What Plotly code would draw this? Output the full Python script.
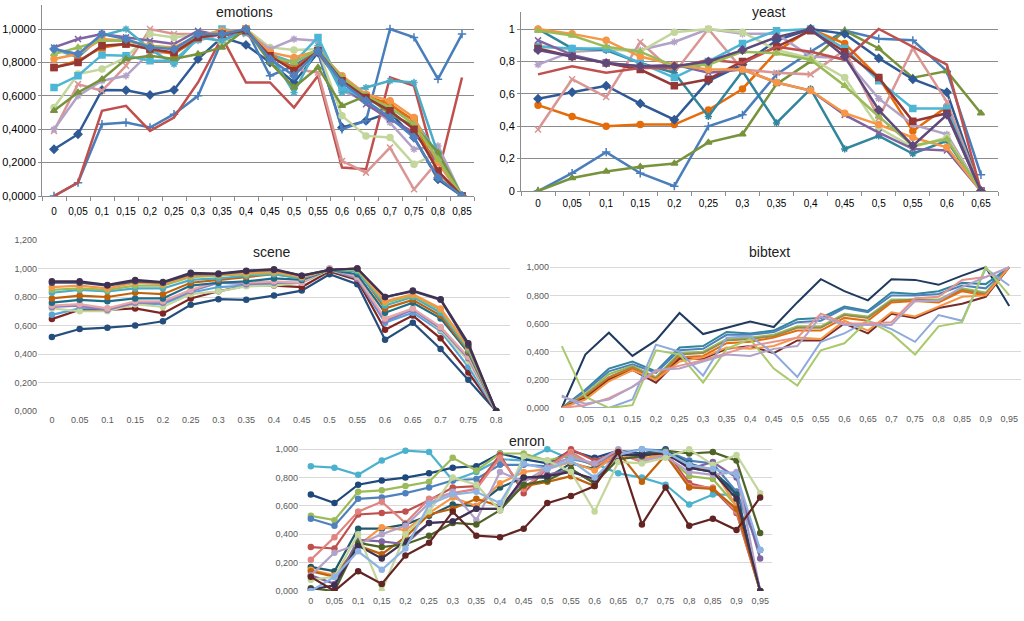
import plotly.graph_objects as go

# ---------------- categories / tick labels ----------------
EMO_CATS = ["0", "0,05", "0,1", "0,15", "0,2", "0,25", "0,3", "0,35", "0,4", "0,45",
            "0,5", "0,55", "0,6", "0,65", "0,7", "0,75", "0,8", "0,85"]
YEAST_CATS = ["0", "0,05", "0,1", "0,15", "0,2", "0,25", "0,3", "0,35", "0,4", "0,45",
              "0,5", "0,55", "0,6", "0,65"]
SCENE_CATS = ["0", "0.05", "0.1", "0.15", "0.2", "0.25", "0.3", "0.35", "0.4", "0.45",
              "0.5", "0.55", "0.6", "0.65", "0.7", "0.75", "0.8"]
BIB_CATS = ["0", "0,05", "0,1", "0,15", "0,2", "0,25", "0,3", "0,35", "0,4", "0,45",
            "0,5", "0,55", "0,6", "0,65", "0,7", "0,75", "0,8", "0,85", "0,9", "0,95"]
ENRON_CATS = list(BIB_CATS)

EMO_YTICKS = [0, 0.2, 0.4, 0.6, 0.8, 1.0]
EMO_YTEXT = ["0,0000", "0,2000", "0,4000", "0,6000", "0,8000", "1,0000"]
YEAST_YTICKS = [0, 0.2, 0.4, 0.6, 0.8, 1.0]
YEAST_YTEXT = ["0", "0,2", "0,4", "0,6", "0,8", "1"]
SCENE_YTICKS = [0, 0.2, 0.4, 0.6, 0.8, 1.0, 1.2]
SCENE_YTEXT = ["0,000", "0,200", "0,400", "0,600", "0,800", "1,000", "1,200"]
BIB_YTICKS = [0, 0.2, 0.4, 0.6, 0.8, 1.0]
BIB_YTEXT = ["0,000", "0,200", "0,400", "0,600", "0,800", "1,000"]

# ---------------- emotions ----------------
EMO_VALUES = [
    [0.28, 0.37, 0.635, 0.633, 0.605, 0.635, 0.82, 0.95, 0.905, 0.80, 0.68, 0.86, 0.41, 0.45, 0.50, 0.35, 0.10, 0.0],
    [0.0, 0.08, 0.43, 0.44, 0.41, 0.49, 0.60, 0.93, 1.0, 0.72, 0.78, 0.87, 0.40, 0.45, 1.0, 0.95, 0.70, 0.97],
    [0.0, 0.08, 0.51, 0.54, 0.39, 0.47, 0.68, 0.95, 0.68, 0.68, 0.53, 0.72, 0.17, 0.16, 0.71, 0.66, 0.13, 0.71],
    [0.39, 0.67, 0.63, 0.78, 1.0, 0.97, 0.97, 0.98, 0.97, 0.86, 0.76, 0.74, 0.21, 0.14, 0.29, 0.04, 0.21, 0.0],
    [0.53, 0.73, 0.76, 0.83, 0.97, 0.95, 0.97, 0.92, 1.0, 0.89, 0.875, 0.88, 0.48, 0.36, 0.35, 0.19, 0.26, 0.0],
    [0.40, 0.60, 0.69, 0.72, 0.86, 0.86, 0.93, 0.97, 0.98, 0.88, 0.94, 0.93, 0.63, 0.57, 0.44, 0.28, 0.30, 0.0],
    [0.89, 0.94, 0.97, 0.95, 0.93, 0.91, 0.99, 0.96, 0.98, 0.84, 0.77, 0.86, 0.66, 0.55, 0.46, 0.38, 0.20, 0.0],
    [0.88, 0.83, 0.96, 1.0, 0.88, 0.79, 0.95, 0.93, 0.99, 0.85, 0.62, 0.90, 0.62, 0.65, 0.69, 0.68, 0.25, 0.0],
    [0.65, 0.72, 0.845, 0.84, 0.81, 0.81, 0.94, 1.0, 0.98, 0.85, 0.80, 0.95, 0.65, 0.58, 0.52, 0.46, 0.25, 0.0],
    [0.77, 0.81, 0.89, 0.91, 0.88, 0.85, 0.95, 0.97, 1.0, 0.85, 0.76, 0.87, 0.70, 0.60, 0.55, 0.45, 0.14, 0.0],
    [0.82, 0.85, 0.94, 0.93, 0.90, 0.89, 0.96, 0.99, 0.99, 0.86, 0.83, 0.87, 0.72, 0.61, 0.57, 0.47, 0.20, 0.0],
    [0.51, 0.62, 0.70, 0.82, 0.84, 0.82, 0.85, 0.89, 1.0, 0.80, 0.65, 0.77, 0.54, 0.60, 0.49, 0.42, 0.26, 0.0],
    [0.85, 0.89, 0.93, 0.93, 0.90, 0.88, 0.96, 0.97, 0.99, 0.83, 0.80, 0.88, 0.71, 0.60, 0.53, 0.43, 0.22, 0.0],
    [0.77, 0.80, 0.90, 0.91, 0.88, 0.86, 0.95, 0.97, 0.99, 0.84, 0.75, 0.87, 0.69, 0.59, 0.51, 0.40, 0.15, 0.0],
    [0.88, 0.85, 0.97, 0.94, 0.89, 0.88, 0.97, 0.97, 1.0, 0.82, 0.72, 0.87, 0.68, 0.57, 0.47, 0.35, 0.11, 0.0],
]
EMO_COLORS = ["#2F5A96", "#4A7EBB", "#C0504D", "#D99694", "#C3D69B", "#B3A2C7", "#8064A2",
              "#4BACC6", "#4DB6D6", "#E46C0A", "#F79646", "#77933C", "#9BBB59", "#953735", "#4F81BD"]
EMO_SYMBOLS = ["diamond", "cross-thin", None, "x-thin", "circle", "asterisk", "x-thin",
               "asterisk", "square", "square", "circle", "triangle-up", "triangle-up", "square", "diamond"]

# ---------------- yeast ----------------
YEAST_VALUES = [
    [0.0, 0.11, 0.24, 0.11, 0.03, 0.40, 0.47, 0.72, 0.86, 0.99, 0.94, 0.93, 0.74, 0.10],
    [0.0, 0.08, 0.12, 0.15, 0.17, 0.30, 0.35, 0.66, 0.80, 0.99, 0.88, 0.70, 0.74, 0.48],
    [0.53, 0.46, 0.40, 0.41, 0.41, 0.50, 0.63, 0.86, 1.0, 0.91, 0.70, 0.37, 0.52, 0.0],
    [0.57, 0.61, 0.65, 0.54, 0.44, 0.68, 0.78, 0.93, 1.0, 0.97, 0.82, 0.69, 0.61, 0.0],
    [0.38, 0.69, 0.58, 0.92, 0.73, 1.0, 0.75, 0.73, 0.72, 0.87, 0.45, 0.88, 0.55, 0.0],
    [0.78, 0.86, 0.87, 0.87, 0.92, 1.0, 0.97, 0.97, 0.83, 0.82, 0.57, 0.41, 0.35, 0.0],
    [0.90, 0.87, 0.88, 0.86, 0.98, 1.0, 0.98, 0.87, 0.82, 0.70, 0.39, 0.27, 0.33, 0.0],
    [1.0, 0.88, 0.87, 0.79, 0.73, 0.46, 0.74, 0.42, 0.63, 0.26, 0.34, 0.23, 0.31, 0.0],
    [0.89, 0.88, 0.88, 0.79, 0.70, 0.80, 0.91, 0.99, 1.0, 0.88, 0.68, 0.51, 0.51, 0.0],
    [0.88, 0.83, 0.79, 0.75, 0.65, 0.69, 0.80, 0.89, 0.99, 0.86, 0.70, 0.43, 0.48, 0.0],
    [0.72, 0.77, 0.73, 0.76, 0.76, 0.81, 0.79, 0.89, 0.86, 0.81, 1.0, 0.89, 0.78, 0.0],
    [0.93, 0.84, 0.79, 0.77, 0.78, 0.73, 0.75, 0.67, 0.62, 0.47, 0.36, 0.26, 0.25, 0.0],
    [1.0, 0.97, 0.93, 0.83, 0.78, 0.75, 0.75, 0.67, 0.62, 0.48, 0.41, 0.33, 0.27, 0.0],
    [0.99, 0.96, 0.89, 0.86, 0.77, 0.78, 0.86, 0.85, 0.81, 0.65, 0.46, 0.28, 0.32, 0.0],
    [0.87, 0.83, 0.79, 0.77, 0.77, 0.80, 0.87, 0.95, 1.0, 0.83, 0.50, 0.28, 0.47, 0.0],
]
YEAST_COLORS = ["#4A7EBB", "#77933C", "#E46C0A", "#2F5A96", "#D99694", "#B3A2C7", "#C3D69B",
                "#31859C", "#4DB6D6", "#953735", "#C0504D", "#8064A2", "#F79646", "#9BBB59", "#5F497A"]
YEAST_SYMBOLS = ["cross-thin", "triangle-up", "circle", "diamond", "x-thin", "asterisk", "circle",
                 "asterisk", "square", "square", None, "x-thin", "circle", "triangle-up", "diamond"]

# ---------------- scene ----------------
SCENE_VALUES = [
    [0.52, 0.575, 0.585, 0.60, 0.63, 0.745, 0.785, 0.78, 0.81, 0.845, 0.96, 0.89, 0.50, 0.62, 0.435, 0.22, 0.0],
    [0.645, 0.71, 0.71, 0.72, 0.685, 0.79, 0.84, 0.88, 0.88, 0.87, 0.98, 0.92, 0.57, 0.67, 0.51, 0.27, 0.0],
    [0.675, 0.72, 0.72, 0.75, 0.75, 0.83, 0.87, 0.88, 0.89, 0.90, 0.99, 0.93, 0.62, 0.69, 0.56, 0.31, 0.0],
    [0.72, 0.70, 0.70, 0.75, 0.73, 0.82, 0.84, 0.875, 0.88, 0.90, 0.99, 0.94, 0.64, 0.72, 0.57, 0.35, 0.0],
    [0.73, 0.74, 0.71, 0.76, 0.76, 0.84, 0.90, 0.89, 0.90, 0.90, 1.0, 0.93, 0.63, 0.71, 0.58, 0.37, 0.0],
    [0.74, 0.75, 0.72, 0.77, 0.77, 0.85, 0.91, 0.90, 0.91, 0.90, 1.0, 0.94, 0.65, 0.72, 0.59, 0.38, 0.0],
    [0.76, 0.78, 0.77, 0.79, 0.79, 0.88, 0.90, 0.91, 0.93, 0.92, 0.99, 0.96, 0.69, 0.76, 0.65, 0.41, 0.0],
    [0.79, 0.81, 0.80, 0.83, 0.82, 0.90, 0.92, 0.94, 0.96, 0.93, 0.99, 0.99, 0.72, 0.78, 0.67, 0.42, 0.0],
    [0.83, 0.85, 0.84, 0.86, 0.86, 0.92, 0.93, 0.95, 0.96, 0.93, 0.99, 0.98, 0.74, 0.80, 0.69, 0.43, 0.0],
    [0.85, 0.86, 0.85, 0.88, 0.88, 0.94, 0.95, 0.96, 0.97, 0.94, 0.99, 0.99, 0.76, 0.81, 0.71, 0.44, 0.0],
    [0.87, 0.88, 0.86, 0.90, 0.89, 0.95, 0.955, 0.97, 0.98, 0.94, 0.99, 1.0, 0.77, 0.82, 0.72, 0.45, 0.0],
    [0.90, 0.90, 0.88, 0.91, 0.90, 0.96, 0.96, 0.98, 0.99, 0.95, 0.99, 1.0, 0.80, 0.84, 0.78, 0.46, 0.0],
    [0.91, 0.91, 0.885, 0.92, 0.905, 0.97, 0.965, 0.985, 0.995, 0.95, 0.99, 1.0, 0.80, 0.845, 0.785, 0.475, 0.0],
]
SCENE_COLORS = ["#254E7C", "#7F2624", "#5BA4D8", "#C3D69B", "#8E7CC3", "#E6A9A7", "#1E6E8A",
                "#C0620B", "#4BACC6", "#9BBB59", "#F79646", "#3C4D6B", "#403152"]

# ---------------- bibtext ----------------
BIB_VALUES = [
    [0.0, 0.38, 0.535, 0.37, 0.48, 0.675, 0.525, 0.57, 0.615, 0.575, 0.75, 0.915, 0.83, 0.765, 0.915, 0.91, 0.875, 0.94, 1.0, 0.725],
    [0.0, 0.13, 0.28, 0.33, 0.26, 0.43, 0.44, 0.54, 0.53, 0.55, 0.63, 0.64, 0.72, 0.69, 0.82, 0.81, 0.83, 0.89, 0.88, 1.0],
    [0.0, 0.12, 0.26, 0.31, 0.25, 0.41, 0.42, 0.52, 0.52, 0.54, 0.61, 0.62, 0.71, 0.68, 0.80, 0.80, 0.81, 0.87, 0.85, 1.0],
    [0.0, 0.10, 0.24, 0.30, 0.22, 0.39, 0.40, 0.49, 0.50, 0.52, 0.58, 0.58, 0.67, 0.65, 0.77, 0.77, 0.77, 0.85, 0.82, 1.0],
    [0.0, 0.09, 0.22, 0.29, 0.21, 0.38, 0.39, 0.48, 0.49, 0.51, 0.57, 0.57, 0.66, 0.64, 0.76, 0.77, 0.76, 0.84, 0.81, 1.0],
    [0.0, 0.08, 0.21, 0.28, 0.20, 0.36, 0.37, 0.46, 0.47, 0.50, 0.55, 0.55, 0.64, 0.62, 0.75, 0.76, 0.75, 0.83, 0.80, 1.0],
    [0.0, 0.07, 0.20, 0.27, 0.18, 0.35, 0.35, 0.42, 0.44, 0.39, 0.48, 0.48, 0.60, 0.53, 0.67, 0.64, 0.71, 0.74, 0.79, 1.0],
    [0.0, 0.06, 0.19, 0.27, 0.20, 0.33, 0.36, 0.43, 0.42, 0.44, 0.50, 0.49, 0.62, 0.55, 0.68, 0.65, 0.72, 0.79, 0.80, 1.0],
    [0.09, 0.0, 0.0, 0.06, 0.45, 0.40, 0.23, 0.50, 0.51, 0.39, 0.22, 0.47, 0.53, 0.62, 0.56, 0.47, 0.66, 0.62, 0.99, 0.87],
    [0.44, 0.08, 0.0, 0.02, 0.41, 0.38, 0.18, 0.42, 0.49, 0.28, 0.16, 0.41, 0.46, 0.62, 0.53, 0.38, 0.58, 0.61, 1.0, 0.80],
    [0.0, 0.02, 0.07, 0.15, 0.26, 0.30, 0.34, 0.39, 0.44, 0.47, 0.50, 0.67, 0.60, 0.60, 0.61, 0.78, 0.79, 0.91, 0.93, 1.0],
    [0.08, 0.03, 0.06, 0.15, 0.27, 0.28, 0.33, 0.38, 0.37, 0.42, 0.44, 0.65, 0.59, 0.59, 0.59, 0.76, 0.76, 0.86, 0.93, 1.0],
]
BIB_COLORS = ["#1F3A5F", "#31859C", "#4F81BD", "#9BBB59", "#948A54", "#E46C0A", "#772C2A",
              "#F79646", "#8EA9DB", "#A9C96A", "#E6928F", "#B3A2C7"]

# ---------------- enron ----------------
ENRON_VALUES = [
    [0.88, 0.87, 0.82, 0.92, 0.99, 0.98, 0.78, 0.84, 0.93, 0.92, 1.0, 0.93, 0.90, 0.83, 0.80, 0.75, 0.61, 0.68, 0.68, 0.29],
    [0.68, 0.62, 0.75, 0.78, 0.80, 0.83, 0.87, 0.88, 0.97, 0.93, 0.90, 0.99, 0.94, 0.99, 0.97, 1.0, 0.87, 0.84, 0.70, 0.0],
    [0.53, 0.50, 0.70, 0.71, 0.74, 0.77, 0.94, 0.85, 0.97, 0.97, 0.92, 0.96, 0.88, 0.99, 0.93, 0.96, 0.81, 0.79, 0.60, 0.0],
    [0.51, 0.46, 0.65, 0.66, 0.69, 0.73, 0.78, 0.79, 0.89, 0.89, 0.88, 0.94, 0.89, 0.97, 1.0, 0.99, 0.92, 0.90, 0.70, 0.29],
    [0.31, 0.30, 0.54, 0.55, 0.56, 0.64, 0.73, 0.74, 0.96, 0.69, 0.87, 1.0, 0.92, 0.98, 0.92, 0.98, 0.76, 0.72, 0.55, 0.0],
    [0.22, 0.38, 0.56, 0.63, 0.48, 0.65, 0.69, 0.72, 0.94, 0.72, 0.87, 0.98, 0.88, 0.97, 0.91, 0.97, 0.74, 0.73, 0.56, 0.0],
    [0.17, 0.14, 0.44, 0.44, 0.47, 0.53, 0.61, 0.60, 0.73, 0.80, 0.80, 0.90, 0.86, 0.96, 0.97, 0.99, 0.90, 0.85, 0.68, 0.0],
    [0.15, 0.11, 0.32, 0.45, 0.43, 0.55, 0.66, 0.60, 0.76, 0.84, 0.86, 0.91, 0.85, 0.97, 0.93, 0.97, 0.88, 0.86, 0.60, 0.0],
    [0.14, 0.10, 0.32, 0.26, 0.38, 0.54, 0.58, 0.65, 0.60, 0.74, 0.77, 0.81, 0.74, 0.98, 0.77, 0.96, 0.73, 0.72, 0.58, 0.0],
    [0.11, 0.05, 0.36, 0.35, 0.33, 0.48, 0.49, 0.58, 0.58, 0.78, 0.82, 0.86, 0.76, 0.99, 0.95, 0.99, 0.86, 0.91, 0.80, 0.23],
    [0.11, 0.27, 0.33, 0.40, 0.46, 0.62, 0.70, 0.50, 0.84, 0.77, 0.87, 0.94, 0.90, 1.0, 0.92, 0.95, 0.84, 0.82, 0.84, 0.0],
    [0.02, 0.0, 0.34, 0.31, 0.33, 0.39, 0.48, 0.47, 0.57, 0.75, 0.78, 0.86, 0.76, 0.93, 0.95, 0.99, 0.97, 0.98, 0.92, 0.41],
    [0.01, 0.04, 0.32, 0.23, 0.35, 0.48, 0.49, 0.58, 0.58, 0.80, 0.81, 0.84, 0.79, 0.96, 0.96, 0.97, 0.87, 0.84, 0.65, 0.0],
    [0.08, 0.10, 0.40, 0.0, 0.40, 0.56, 0.80, 0.75, 0.57, 0.95, 0.92, 0.84, 0.56, 0.91, 0.90, 0.94, 1.0, 0.89, 0.96, 0.69],
    [0.0, 0.10, 0.28, 0.15, 0.30, 0.61, 0.68, 0.70, 0.62, 0.90, 0.86, 0.92, 0.80, 0.96, 1.0, 0.98, 0.89, 0.86, 0.82, 0.29],
    [0.10, 0.0, 0.14, 0.05, 0.25, 0.34, 0.56, 0.39, 0.38, 0.44, 0.62, 0.67, 0.74, 0.98, 0.47, 0.73, 0.46, 0.51, 0.43, 0.66],
]
ENRON_COLORS = ["#4BB2CE", "#1F497D", "#9BBB59", "#4F81BD", "#C0504D", "#E08480", "#215968",
                "#F79646", "#C0620B", "#8064A2", "#B3A2C7", "#4F6228", "#3F3151", "#C3D69B",
                "#8EB4E3", "#632523"]

# ---------------- helpers ----------------
W, H = 1024, 621


def xdom(a, b):
    return [a / W, b / W]


def ydom(top, bottom):
    return [1 - bottom / H, 1 - top / H]


def cat_range(cats):
    return [-0.5, len(cats) - 0.5]


fig = go.Figure()

FONT = "Liberation Sans, Arial, sans-serif"


def add_series(values_list, cats, colors, idx, symbols=None, width=2.5, msize=6, marker_default=None):
    xa = "x" if idx == 1 else f"x{idx}"
    ya = "y" if idx == 1 else f"y{idx}"
    for i, vals in enumerate(values_list):
        sym = symbols[i] if symbols is not None else marker_default
        col = colors[i % len(colors)]
        if sym is None:
            fig.add_trace(go.Scatter(x=cats, y=vals, mode="lines", xaxis=xa, yaxis=ya,
                                     line=dict(color=col, width=width), showlegend=False,
                                     hoverinfo="skip"))
        else:
            fig.add_trace(go.Scatter(x=cats, y=vals, mode="lines+markers", xaxis=xa, yaxis=ya,
                                     line=dict(color=col, width=width),
                                     marker=dict(symbol=sym, size=msize, color=col,
                                                 line=dict(color=col, width=1.5)),
                                     showlegend=False, hoverinfo="skip"))


add_series(EMO_VALUES, EMO_CATS, EMO_COLORS, 1, symbols=EMO_SYMBOLS, width=2.5, msize=6)
add_series(YEAST_VALUES, YEAST_CATS, YEAST_COLORS, 2, symbols=YEAST_SYMBOLS, width=2.5, msize=6)
add_series(SCENE_VALUES, SCENE_CATS, SCENE_COLORS, 3, width=2.2, msize=5, marker_default="circle")
add_series(BIB_VALUES, BIB_CATS, BIB_COLORS, 4, width=2.0, marker_default=None)
add_series(ENRON_VALUES, ENRON_CATS, ENRON_COLORS, 5, width=2.2, msize=5, marker_default="circle")

old_grid = "#8C8C8C"
new_grid = "#D9D9D9"
old_font = dict(family=FONT, size=11, color="#000000")
old_xfont = dict(family=FONT, size=10, color="#000000")
new_font = dict(family=FONT, size=9, color="#595959")

common = dict(automargin=False, fixedrange=True)

layout = dict(
    template="none",
    width=W, height=H, margin=dict(l=0, r=0, t=0, b=0, pad=0), autosize=False,
    paper_bgcolor="white", plot_bgcolor="white", showlegend=False,
    # emotions
    xaxis=dict(domain=xdom(42, 474), type="category", range=cat_range(EMO_CATS), anchor="y",
               showline=True, linecolor=old_grid, linewidth=1,
               ticks="outside", tickson="boundaries", ticklen=4, tickcolor=old_grid,
               ticklabelstandoff=6,
               tickfont=old_xfont, tickangle=0, showgrid=False, **common),
    yaxis=dict(domain=ydom(5, 196), range=[0, 1.144], anchor="x", showline=True, linecolor=old_grid,
               linewidth=1, tickvals=EMO_YTICKS, ticktext=EMO_YTEXT, gridcolor=old_grid, gridwidth=1,
               showgrid=True, tickfont=old_font, zeroline=False, ticks="outside", ticklen=3,
               tickcolor=old_grid, **common),
    # yeast
    xaxis2=dict(domain=xdom(521, 998), type="category", range=cat_range(YEAST_CATS), anchor="y2",
                showline=True, linecolor=old_grid, linewidth=1,
                ticks="outside", tickson="boundaries", ticklen=4, tickcolor=old_grid,
                ticklabelstandoff=3,
                tickfont=old_xfont, tickangle=0, showgrid=False, **common),
    yaxis2=dict(domain=ydom(12, 191), range=[0, 1.105], anchor="x2", showline=True, linecolor=old_grid,
                linewidth=1, tickvals=YEAST_YTICKS, ticktext=YEAST_YTEXT, gridcolor=old_grid,
                gridwidth=1, showgrid=True, tickfont=old_font, zeroline=False, ticks="outside",
                ticklen=3, tickcolor=old_grid, **common),
    # scene
    xaxis3=dict(domain=xdom(38, 510), type="category", range=cat_range(SCENE_CATS), anchor="y3",
                showline=False, ticks="", tickfont=new_font, tickangle=0, showgrid=False,
                ticklabelstandoff=2, **common),
    yaxis3=dict(domain=ydom(240, 411), range=[0, 1.2], anchor="x3", showline=False, ticks="",
                tickvals=SCENE_YTICKS, ticktext=SCENE_YTEXT, gridcolor=new_grid, showgrid=True,
                tickfont=new_font, zeroline=False, **common),
    # bibtext
    xaxis4=dict(domain=xdom(550, 1021), type="category", range=cat_range(BIB_CATS), anchor="y4",
                showline=False, ticks="", tickfont=new_font, tickangle=0, showgrid=False,
                ticklabelstandoff=4, **common),
    yaxis4=dict(domain=ydom(263, 408), range=[0, 1.03], anchor="x4", showline=False, ticks="",
                tickvals=BIB_YTICKS, ticktext=BIB_YTEXT, gridcolor=new_grid, showgrid=True,
                tickfont=new_font, zeroline=False, **common),
    # enron
    xaxis5=dict(domain=xdom(299, 772), type="category", range=cat_range(ENRON_CATS), anchor="y5",
                showline=False, ticks="", tickfont=new_font, tickangle=0, showgrid=False,
                ticklabelstandoff=3, **common),
    yaxis5=dict(domain=ydom(445, 591), range=[0, 1.03], anchor="x5", showline=False, ticks="",
                tickvals=BIB_YTICKS, ticktext=BIB_YTEXT, gridcolor=new_grid, showgrid=True,
                tickfont=new_font, zeroline=False, **common),
)
fig.update_layout(**layout)

TITLES = [("emotions", 244, 12, 14), ("yeast", 769, 12, 14), ("scene", 272, 252, 14),
          ("bibtext", 769, 252, 14), ("enron", 527, 441, 14)]
for text, cx, cy, fs in TITLES:
    fig.add_annotation(text=text, x=cx / W, y=1 - cy / H, xref="paper", yref="paper",
                       showarrow=False, xanchor="center", yanchor="middle",
                       font=dict(family=FONT, size=fs, color="#222222", weight="normal"))

fig.write_html("out.html", config={"displayModeBar": False},
               post_script="document.body.style.margin='0';document.body.style.padding='0';")
